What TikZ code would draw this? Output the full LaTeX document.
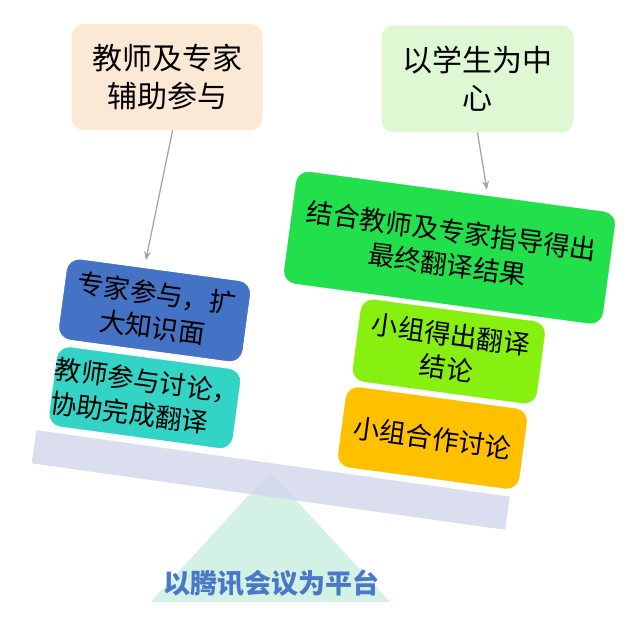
\documentclass[tikz,border=0pt]{standalone}
\usepackage{fontspec}
\setmainfont{Noto Sans CJK SC}
\usepackage{tikz}
\usetikzlibrary{arrows.meta,positioning,calc}
\definecolor{peach}{RGB}{252, 233, 213}
\definecolor{mint}{RGB}{221, 248, 210}
\definecolor{expertblue}{RGB}{68, 114, 196}
\definecolor{tealbox}{RGB}{51, 211, 198}
\definecolor{resultgreen}{RGB}{34, 224, 75}
\definecolor{limegreen}{RGB}{136, 240, 17}
\definecolor{discussorange}{RGB}{255, 192, 0}
\definecolor{beamgray}{RGB}{211, 216, 236}
\definecolor{pivot}{RGB}{211, 242, 229}
\definecolor{labelblue}{RGB}{74, 120, 200}
\definecolor{arrowgray}{RGB}{166, 166, 166}
\tikzset{
    goal/.style={rectangle, rounded corners=12pt, minimum width=191pt, minimum height=106pt, align=center, inner sep=0pt, font=\fontsize{30}{38}\selectfont},
    stage/.style={rectangle, draw=white, line width=1pt, rounded corners=13pt, minimum width=186pt, minimum height=82pt, align=center, inner sep=0pt, rotate=-7.7, font=\fontsize{26.5}{34}\selectfont},
    arrow/.style={line width=1.3pt, -{Stealth[length=9pt,width=7pt]}, draw=arrowgray}
}

\begin{document}
\begin{tikzpicture}[x=1pt, y=1pt]
        \useasboundingbox (0,0) rectangle (640,629);
        % Seesaw
        \fill [pivot] (270,157) -- (390,27) -- (151,27) -- cycle;
        \node (beam) [fill=beamgray, fill opacity=0.85, minimum width=478pt, minimum height=33.5pt, inner sep=0pt, rotate=-8] at (270.75,149) {};
        \node (platform) [text=labelblue, font=\fontsize{27}{32}\selectfont\bfseries] at (271,45.5) {以腾讯会议为平台};
        
        \node (support) [goal, fill=peach] at (167,552) {教师及专家\\辅助参与};
        \node (centre) [goal, fill=mint, minimum width=192pt, minimum height=107pt] at (477.5,550) {以学生为中\\心};
        
        % Left pan
        \node (expert) [stage, fill=expertblue] at (154.6,318.6) {专家参与，扩\\大知识面};
        \node (teacher) [stage, fill=tealbox, minimum height=81pt, align=left] at (144.8,231.3) {教师参与讨论，\\协助完成翻译};
        
        % Right pan
        \node (result) [stage, fill=resultgreen, minimum width=323pt, minimum height=114pt] at (449.5,381.3) {结合教师及专家指导得出\\最终翻译结果};
        \node (conclude) [stage, fill=limegreen, minimum width=187pt, minimum height=84pt] at (448.8,277.5) {小组得出翻译\\结论};
        \node (discuss) [stage, fill=discussorange, minimum width=184pt] at (432.5,191) {小组合作讨论};
        
        \draw [arrow, shorten >=7pt] (support.-84) -- ($(expert.north)!0.17!(expert.north west)$);
        \draw [arrow, shorten >=5pt] (centre.south) -- ($(result.north)!0.19!(result.north east)$);
    \end{tikzpicture}
\end{document}
